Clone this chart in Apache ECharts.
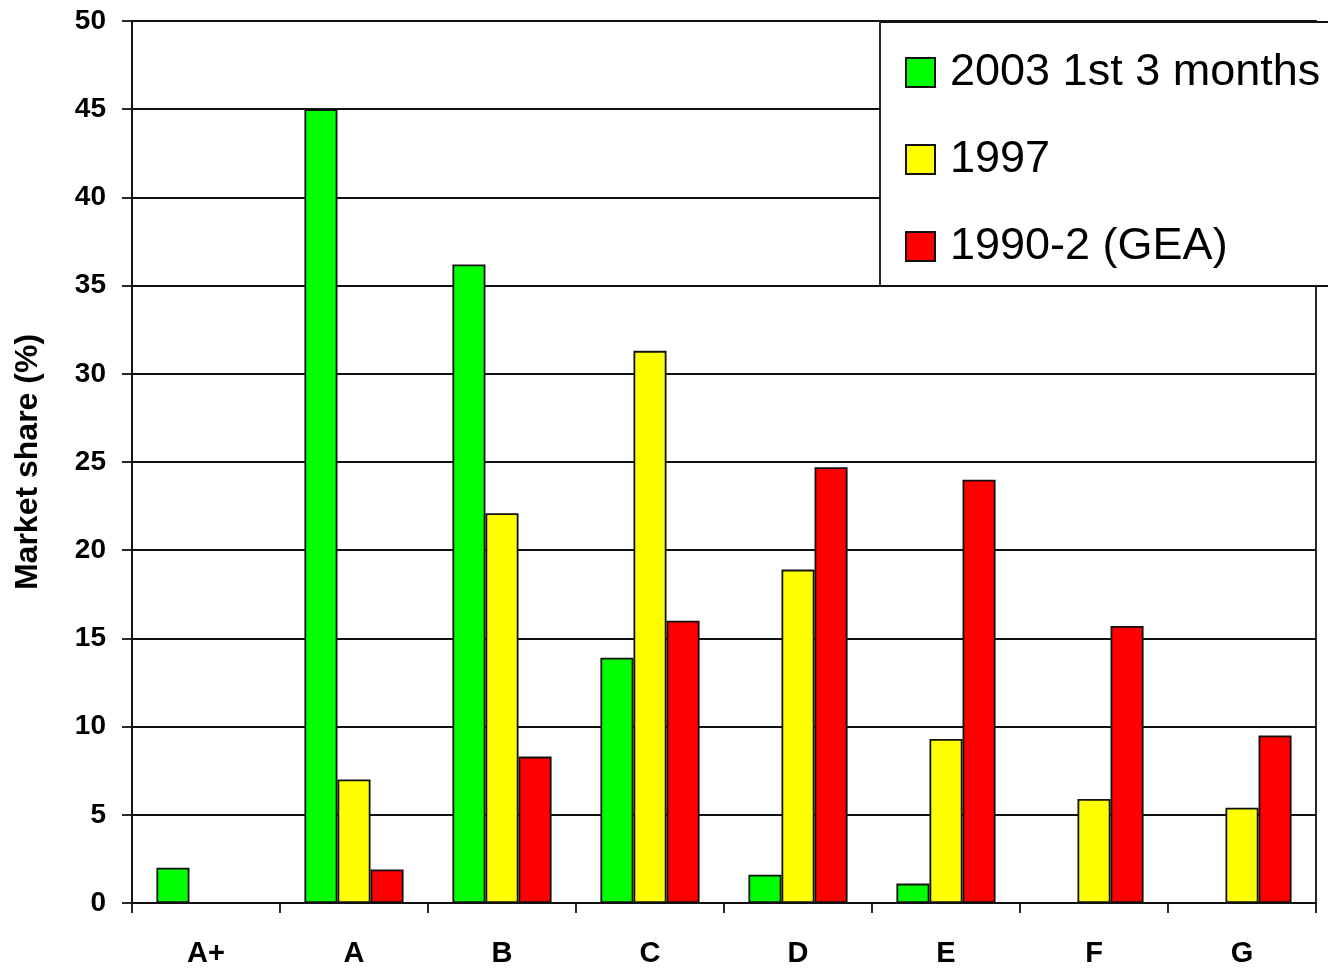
<!DOCTYPE html>
<html>
<head>
<meta charset="utf-8">
<script src="https://cdn.jsdelivr.net/npm/echarts@6/dist/echarts.min.js"></script>
<style>
  html, body { margin: 0; padding: 0; background: #fff; }
  #chart { width: 1328px; height: 968px; }
</style>
</head>
<body>
<div id="chart"></div>
<script>
  var categories = ['A+', 'A', 'B', 'C', 'D', 'E', 'F', 'G'];
  var seriesNames = ['2003 1st 3 months', '1997', '1990-2 (GEA)'];
  var q2003 = [2.0, 45.0, 36.2, 13.9, 1.6, 1.1, null, null];
  var y1997 = [null, 7.0, 22.1, 31.3, 18.9, 9.3, 5.9, 5.4];
  var gea1990 = [null, 1.9, 8.3, 16.0, 24.7, 24.0, 15.7, 9.5];
  var yTicks = { min: 0, max: 50, interval: 5 };

  var font = '"Liberation Sans", Arial, sans-serif';
  var colors = ['#00ff00', '#ffff00', '#ff0000'];
  var values = [q2003, y1997, gea1990];

  var chart = echarts.init(document.getElementById('chart'));

  var series = values.map(function(v, i) {
    return {
      name: seriesNames[i],
      type: 'bar',
      data: v,
      barGap: '0%',
      barCategoryGap: '33%',
      itemStyle: { color: colors[i], borderColor: '#111', borderWidth: 1.8 }
    };
  });

  chart.setOption({
    animation: false,
    backgroundColor: '#fff',
    grid: {
      left: 132, right: 12, top: 21, bottom: 64,
      show: true, borderColor: '#111', borderWidth: 1.8, backgroundColor: 'transparent'
    },
    legend: {
      orient: 'vertical',
      left: 880, top: 22,
      padding: [28, 30, 17, 25],
      itemGap: 42,
      itemWidth: 29, itemHeight: 29,
      icon: 'rect',
      backgroundColor: '#fff',
      borderColor: '#111', borderWidth: 1.8,
      textStyle: { fontFamily: font, fontSize: 45, color: '#000', padding: [0, 0, 0, 10] },
      data: seriesNames
    },
    xAxis: {
      type: 'category',
      data: categories,
      axisLine: { lineStyle: { color: '#111', width: 1.8 } },
      axisTick: { show: true, length: 10, lineStyle: { color: '#111', width: 1.8 } },
      axisLabel: { margin: 36, fontFamily: font, fontSize: 29, fontWeight: 'bold', color: '#000' },
      splitLine: { show: false }
    },
    yAxis: {
      type: 'value',
      min: yTicks.min, max: yTicks.max, interval: yTicks.interval,
      name: 'Market share (%)',
      nameLocation: 'middle',
      nameGap: 88,
      nameTextStyle: { fontFamily: font, fontSize: 32, fontWeight: 'bold', color: '#000' },
      axisLine: { show: true, lineStyle: { color: '#111', width: 1.8 } },
      axisTick: { show: true, length: 10, lineStyle: { color: '#111', width: 1.8 } },
      axisLabel: { margin: 26, fontFamily: font, fontSize: 28, fontWeight: 'bold', color: '#000' },
      splitLine: { show: true, lineStyle: { color: '#111', width: 1.8 } }
    },
    series: series
  });

  window.addEventListener('resize', function() { chart.resize(); });
</script>
</body>
</html>
